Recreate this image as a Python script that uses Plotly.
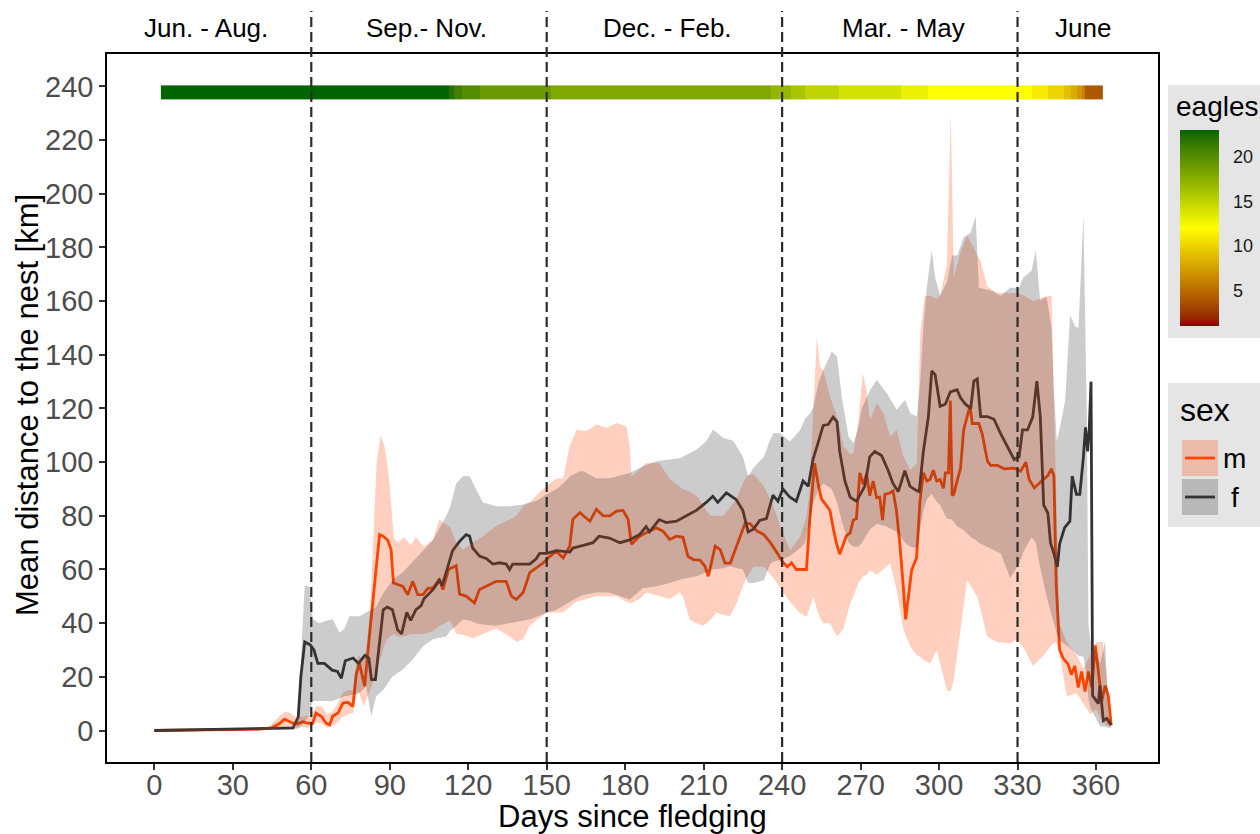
import numpy as np
import plotly.graph_objects as go

# ---------------- data ----------------
f_days = [0, 10, 20, 30, 40, 48, 53, 55, 56, 57.5, 59.5, 61, 62.5, 65, 68, 70, 71.5, 73, 76, 78, 80.5, 82, 83, 84.5,
          86, 87.5, 89, 91, 93, 94.5, 96.5, 98, 100, 102, 103, 106.5, 109, 110, 111.6, 114, 116.7, 119.2, 120.5,
          121.7, 124.3, 127, 129.4, 132, 134.5, 135.8, 137, 141, 143.5, 146, 147.3, 150, 153.7, 158.8, 160, 164,
          167.7, 170, 174, 178, 181.7, 185.5, 188, 189.3, 193, 195.7, 199.6, 203.4, 207.2, 211, 213.5, 215.4,
          218.7, 222.5, 225, 227, 229, 231.4, 234, 236.5, 238.4, 240.3, 242.9, 245.4, 248, 250, 251.8, 253.8,
          255.7, 257.6, 259.5, 261, 262, 264, 266, 268.4, 271.6, 273.5, 275.4, 278, 280.5, 282.4, 284.4, 286.9,
          288.9, 291.4, 292.4, 294, 295.9, 297.2, 298.5, 300.4, 302.4, 304.3, 306.9, 308.2, 310.1, 312.1, 313.3,
          314.6, 315.9, 318.5, 321, 323.6, 326.1, 328.7, 330.6, 331.9, 333.8, 335.8, 337.4, 338.7, 340, 341.6,
          342.6, 343.9, 345.2, 346.1, 348, 350, 350.9, 352.5, 353.8, 355.1, 356, 356.8, 357.4, 358.1, 358.7,
          360.9, 361.5, 362.8, 364.1, 365.8]
f_mean = [0, 0.2, 0.3, 0.5, 0.6, 1, 1, 5, 20, 33, 32, 30, 25, 25, 22.5, 22, 19.5, 26, 27, 25, 28, 27, 19, 19,
          33, 45, 46, 45, 37.5, 36, 44, 41, 45, 46.5, 49, 52.5, 56, 54, 59, 67, 70.5, 73, 72.5,
          68, 65, 64, 62, 62.5, 62, 60, 62, 62, 62, 64, 66, 66, 67, 66.5, 68, 69,
          70, 72.4, 71.7, 70, 71, 73, 76, 74, 78.6, 77.5, 78, 80, 82, 85, 87.3, 85,
          88.6, 86, 82, 74, 75, 78.3, 79, 87.7, 85.4, 90, 87, 85.4, 93, 91, 101, 107.4,
          113.7, 114, 116.8, 115, 104, 93, 87, 85.4, 91, 102, 104, 102.5, 97, 92, 89, 96.8,
          91, 89.4, 89, 104, 116.8, 134, 132.6, 120.8, 121.6, 126.2, 127, 124, 121.6, 120, 130.2,
          131, 117, 117, 116, 110.5, 105.7, 101, 102, 112, 112, 116.8, 130.2, 117, 84, 81,
          70, 66, 61, 69.6, 75.6, 78, 94.8, 88, 88, 101, 113, 104, 112, 130, 13,
          10, 16.8, 3.7, 4.5, 2]

m_days = [0, 10, 20, 30, 40, 45, 48, 49.7, 51.6, 53, 54.8, 56.7, 58.7, 60.5, 61.8, 63.8, 65.7, 67, 68.2, 70.2,
          72.1, 74, 75.9, 77.2, 78.4, 80.4, 82.2, 84.2, 86.1, 87.4, 89.2, 90.5, 91.4, 93, 95, 96.9, 98.8, 100.7,
          102.7, 104.6, 106.5, 109, 110.3, 112.5, 115.4, 116.7, 119.2, 122.4, 124.3, 126.9, 130.7, 134.5, 136.5,
          138.4, 141, 143.5, 146, 148.6, 151.2, 153.7, 156.3, 158.8, 160, 162.7, 164, 166.5, 169, 171.6, 174.1,
          176.7, 179.2, 181.1, 182.4, 185.5, 188, 191.9, 194.5, 197, 199.6, 202.1, 204, 206, 208.6, 210.5, 211.8,
          213.1, 214.4, 216.3, 218.2, 220.2, 222.1, 224, 225.9, 227.8, 230.4, 233, 235.5, 238.1, 240, 242, 243.6,
          245.4, 249.3, 250.5, 252.4, 253.8, 255, 257, 258.3, 259.5, 260.8, 262, 263.4, 264.6, 266, 267.2, 268.4,
          269.7, 271, 272.3, 273.5, 274.8, 276.1, 277.3, 278.4, 279.3, 281.2, 282.4, 283.7, 285, 286.3, 287.2,
          288.2, 289.5, 291.4, 292.7, 294, 295.3, 296.5, 297.8, 299.1, 300.4, 301.7, 302.4, 303.6, 304.3, 305,
          305.6, 306.9, 308.2, 309.4, 310.7, 311.8, 312.7, 315.2, 316.5, 318.5, 319.7, 322.3, 324.8, 328.7, 331.2,
          333.2, 334.4, 336.4, 339, 341.6, 342.9, 343.9, 344.8, 346.1, 347.4, 349.3, 350.6, 351.9, 353.2, 354.5,
          355.8, 357.1, 358.4, 359.7, 360.9, 362.2, 363.5, 364.7, 365.8]
m_mean = [0, 0, 0.2, 0.3, 0.5, 1, 2.7, 4.2, 3.3, 2.7, 2.5, 3.3, 2.7, 2.7, 6.5, 5.3, 2.7, 2.1, 5.3, 6.5,
          10.2, 10.5, 9, 21, 25, 16.5, 35, 53.7, 73, 72.4, 71, 67.4, 55, 54.4, 53.7, 50.6, 55.6, 50.6,
          50.6, 53, 53, 56.5, 52.5, 60, 61.4, 50.8, 50.1, 47.5, 52.5, 53.8, 55.6, 55.6, 50.1,
          48.8, 51.4, 58.8, 60.6, 62.4, 64.9, 66.8, 64.3, 68.7, 78.7, 81.2, 80, 78, 82.4, 80, 80,
          81.8, 82, 78.7, 69.4, 72.4, 73.7, 75.5, 74.3, 71.2, 72.4, 72, 64.9, 63.7, 63.5, 61.2, 57.5,
          63, 68.7, 67.4, 62.4, 62.4, 67.4, 72.4, 77.4, 77, 74.3, 73, 70, 66.2, 63, 61, 62.5,
          60, 60, 77.5, 99.6, 91.7, 86.3, 83.8, 82, 75.6, 69.6, 65.7, 69.6, 72.6, 73.6, 78.4, 79,
          96, 91.7, 95.6, 87.5, 93, 86.8, 87, 78.4, 88, 88.5, 89.3, 82, 69.6, 54, 41.4,
          49.2, 59.7, 64.4, 85.4, 96, 93, 93.5, 97, 93, 93.5, 90.2, 96, 96, 123, 87.6,
          88, 93, 97.6, 112, 116.8, 121, 114.4, 114.4, 110.5, 100.4, 98.8, 98.8, 97.5, 97.8, 96.6,
          100, 93.6, 90.4, 92.8, 95, 97.5, 95, 54, 30, 27, 24.7, 20.8, 24, 16, 22,
          14.5, 22, 16, 31.7, 22, 11, 16.7, 13, 2]

m_rib_days = [0, 10, 20, 30, 40, 44, 46, 48, 50, 52, 54, 56, 58, 60, 62, 64, 66, 68, 70, 72, 74, 76, 77, 78, 80,
              81, 82.5, 84, 85, 86.5, 88, 89, 90, 91.5, 93, 95.5, 98, 100, 103, 106.5, 109, 111, 113, 115.5,
              118, 121.7, 125.6, 130.7, 135.8, 138.5, 141, 143.5, 146, 150, 153.7, 156.3, 158.8, 161.4, 165.2,
              169, 173, 176.7, 180.5, 181.7, 182.4, 185.5, 188, 193, 197, 200.9, 202, 204.7, 207.3, 209.8, 212.4,
              214.9, 217.5, 220, 222.5, 225, 226.5, 229, 233, 236.5, 239.4, 243, 246.9, 249.4, 250.5, 252, 253.3,
              254.5, 255.8, 258.3, 261, 263.5, 266, 267.3, 269.2, 270.8, 272.3, 273.6, 276.2, 278.7, 281.3, 283.8,
              286.4, 289, 291.5, 292.8, 294.5, 296.6, 299.1, 300.4, 303, 304.5, 305.6, 308.2, 310.7, 313.3, 314.6,
              315.9, 318.4, 322.2, 327.3, 330, 332.6, 336, 339.9, 343, 344.5, 346, 348.8, 352.6, 355.2, 357.8, 360,
              362.5, 364, 365.8]
m_lo = [0, 0, 0, 0, 0.1, 0.3, 0.5, 1, 1.5, 1, 1, 1.5, 1, 1.5, 3, 2.5, 1, 1.5, 3, 5, 6, 6.5, 12, 15, 9,
        11.5, 15, 19, 22, 27, 32, 34, 35, 36, 35, 35, 36, 36, 36, 37, 39, 40, 41, 36,
        35.7, 34.4, 36, 38, 35, 33, 34, 39, 41, 43.9, 44, 44, 46, 48, 49,
        50, 50, 50, 48, 47.5, 47.5, 49, 51.4, 50, 49, 51.4, 50, 41.4, 40, 39, 41,
        43.9, 43, 42.6, 47, 53.8, 57, 61, 61, 57, 53, 48, 43.6, 42.4, 45, 49.8, 45,
        42, 39.9, 40, 35, 38, 47.4, 50, 55, 57.3, 58, 59.8, 58, 60, 62.3, 52.4,
        37.5, 31.2, 28, 27.5, 26, 25, 30, 25, 15, 14.6, 18.7, 37.5, 56, 52, 49.8,
        45, 35, 33, 32.4, 34, 30.3, 24, 27.9, 32, 33, 29.3, 12.7, 14, 10, 6, 8,
        3, 2, 1.5]
m_hi = [0.3, 0.3, 0.4, 0.5, 0.8, 1.5, 3.5, 5.5, 7, 6.5, 5, 5, 5.5, 6, 9, 9, 6, 7, 10, 14, 15, 15, 24, 28, 26,
        30, 45, 80, 100, 110, 106, 100, 91, 72, 70, 72, 69, 72, 68.5, 71, 78.7, 77, 76, 70,
        67.4, 70, 72.4, 76.2, 78.7, 80, 83.7, 85, 87.5, 91.3, 93.8, 94, 106, 112, 111.6,
        114, 112.8, 114.6, 113.4, 106, 94.7, 97.2, 99.7, 99.7, 93.8, 91, 90, 89, 87.5, 84, 80,
        80, 80, 83, 86.2, 92, 95, 95.6, 91, 84, 76, 67.2, 72.2, 80, 90, 120.7, 146.8,
        135.6, 134, 124.4, 117, 105.8, 103, 103.3, 115.7, 133, 126.9, 115.7, 122, 118.2, 109.5, 112,
        102, 97.1, 99.6, 148, 162, 162, 160.8, 162, 173.5, 230, 168.7, 178.2, 184.5, 179.8, 177,
        175, 165.5, 163, 163, 163, 162, 160, 161.5, 162, 100, 40, 33, 28, 23, 28, 33,
        33, 20, 3]

f_rib_days = [0, 20, 40, 50, 54, 55.5, 56.5, 57.5, 59.3, 60.5, 63, 66, 68.2, 70.8, 72.7, 74.6, 78.4, 81, 82.9,
              84.8, 87.4, 91, 95, 98.8, 102.7, 106.5, 111.6, 113, 115.4, 118, 120.5, 123.1, 125.6, 130.7, 135.8,
              141, 143.5, 146, 150, 153.8, 156.3, 158.9, 162.7, 164, 169, 174, 181.7, 186.8, 191.9, 197, 200.9,
              202, 207.3, 211, 213.6, 217.5, 220, 221.3, 225, 227, 229, 233, 235.4, 236.8, 239.2, 243, 246.9,
              248.8, 250.6, 252, 254, 255.8, 259, 261, 262.8, 265.4, 267.3, 269.2, 270.5, 273.6, 276.2, 280,
              283.8, 287, 289, 291.5, 292.8, 294, 295.3, 297.2, 298.5, 300.4, 303, 305, 307, 309.4, 312, 314,
              315.2, 319.7, 323.6, 327.2, 330.6, 332.2, 335.4, 337, 338.6, 341.1, 343, 343.7, 345, 346.3, 348.2,
              350.1, 352, 353.3, 355.2, 356.5, 357.1, 357.8, 360.3, 361.6, 363.5, 364.8, 365.8]
f_lo = [0, 0, 0.1, 0.3, 0.5, 1, 2, 3, 6, 11, 11, 11, 11, 12, 12.8, 13, 14, 16.5, 5.3,
        12.8, 15, 20, 22.7, 26.5, 31.4, 34, 35, 37, 39, 41.4, 41, 40, 39.5, 39, 40,
        41, 41.4, 42.5, 43.9, 45, 46.3, 48, 50, 50.5, 51.4, 51.4, 48.8, 53, 53.8, 55, 56.3,
        56.5, 57.5, 59, 60, 60.5, 61.2, 61, 60, 55, 55, 56, 62, 63, 63.5, 65, 68,
        70, 78, 85, 90, 92, 90, 85, 78, 70, 68.5, 68.5, 70, 75, 77, 76,
        74, 70, 68.5, 68, 75, 82, 86, 88.3, 86, 84, 79, 78.5, 76, 74.7, 72.2, 71,
        70, 68, 66, 56.8, 62, 66.5, 72, 70, 61, 50, 43, 40.4, 36, 33.4, 32,
        30.7, 29, 27.9, 27.5, 20, 12, 8.6, 4, 1.5, 1.5, 1, 1]
f_hi = [0.3, 0.4, 0.6, 1, 1.5, 10, 36, 54, 53.7, 41.5, 40, 41, 41.5, 36.4, 38, 42.6, 42.6, 44, 45,
        46, 51, 56, 59, 63, 67, 71, 80, 83, 92, 94.7, 94.7, 89.6, 85, 83.6, 83.6,
        84.2, 85, 85.5, 88, 90, 92, 94.7, 96.6, 96.6, 94, 94, 96, 98.5, 100.3, 101, 101.5,
        102, 104.7, 107.8, 112.2, 109, 108.5, 108, 102, 94.7, 97.8, 102, 108.3, 110.9, 110.8, 107.7, 112,
        116.3, 118, 120.7, 130, 134.4, 141.2, 139.3, 124.4, 109.5, 107, 113.2, 120, 126.9, 130.6, 125.7,
        119.5, 123.2, 118.2, 117, 130, 150, 165, 179, 168.7, 162, 167, 177, 177, 183.8, 185.4, 191.7,
        165, 164, 162, 165, 165, 168.7, 171.3, 178.9, 160.2, 161.5, 150, 130, 107.9, 113.3, 123,
        154.7, 150.6, 150, 192, 116, 40, 33.4, 29.3, 25, 33.4, 6, 3]

# eagles-count colour bar segments (first day, last day, number of eagles)
bar_start = [3, 113, 115, 118, 125, 152, 185, 236, 244, 249, 262, 286, 292, 296, 336, 342, 348, 351, 353, 355, 356]
bar_end = [112, 114, 117, 124, 151, 184, 235, 243, 248, 261, 285, 291, 295, 335, 341, 347, 350, 352, 354, 355, 362]
bar_eagles = [23, 22, 21, 20, 19, 18, 18, 17, 16, 15, 14, 13, 13, 12, 11, 10, 9, 8, 7, 6, 4]

season_days = [0, 60, 150, 240, 330]          # dashed separators at 60..330
season_labels = ["Jun. - Aug.", "Sep.- Nov.", "Dec. - Feb.", "Mar. - May", "June"]
season_label_x = [19.7, 104, 196.2, 286.3, 355.2]

x_ticks = list(range(0, 361, 30))
y_ticks = list(range(0, 241, 20))
cbar_ticks = [5, 10, 15, 20]
Z_MIN, Z_MAX = 1, 23

# ---------------- colour scale (Lab interpolation like ggplot) ----------------
def _hex(h):
    h = h.lstrip('#')
    return np.array([int(h[i:i + 2], 16) for i in (0, 2, 4)], float) / 255


def _to_lab(rgb):
    c = np.where(rgb <= 0.04045, rgb / 12.92, ((rgb + 0.055) / 1.055) ** 2.4)
    M = np.array([[0.4124, 0.3576, 0.1805], [0.2126, 0.7152, 0.0722], [0.0193, 0.1192, 0.9505]])
    xyz = M @ c / np.array([0.95047, 1.0, 1.08883])
    f = np.where(xyz > 0.008856, np.cbrt(xyz), 7.787 * xyz + 16 / 116)
    return np.array([116 * f[1] - 16, 500 * (f[0] - f[1]), 200 * (f[1] - f[2])])


def _from_lab(lab):
    fy = (lab[0] + 16) / 116
    fx = fy + lab[1] / 500
    fz = fy - lab[2] / 200
    f = np.array([fx, fy, fz])
    xyz = np.where(f ** 3 > 0.008856, f ** 3, (f - 16 / 116) / 7.787) * np.array([0.95047, 1.0, 1.08883])
    Mi = np.array([[3.2406, -1.5372, -0.4986], [-0.9689, 1.8758, 0.0415], [0.0557, -0.2040, 1.0570]])
    c = np.clip(Mi @ xyz, 0, 1)
    s = np.where(c <= 0.0031308, 12.92 * c, 1.055 * c ** (1 / 2.4) - 0.055)
    s = np.clip(s, 0, 1)
    return 'rgb(%d,%d,%d)' % tuple(np.round(s * 255))


anchors = [_to_lab(_hex(h)) for h in ('#8B0000', '#FFFF00', '#006400')]
colorscale = []
for t in np.linspace(0, 1, 45):
    if t <= 0.5:
        lab = anchors[0] + (anchors[1] - anchors[0]) * (t / 0.5)
    else:
        lab = anchors[1] + (anchors[2] - anchors[1]) * ((t - 0.5) / 0.5)
    colorscale.append([float(t), _from_lab(lab)])

# expand segments into daily tiles
tile_days, tile_z = [], []
for s, e, v in zip(bar_start, bar_end, bar_eagles):
    for d in range(s, e + 1):
        tile_days.append(d)
        tile_z.append(v)
x_edges = [d - 0.5 for d in tile_days] + [tile_days[-1] + 0.5]

# ---------------- geometry helpers ----------------
W, H = 1260, 834
L, R, T, B = 107, 102, 54, 72
PW, PH = W - L - R, H - T - B


def px(xp):
    return (xp - L) / PW


def py(yp):
    return (H - B - yp) / PH


FONT = "Liberation Sans, Arial, Helvetica, sans-serif"
M_COL = "#FF4500"
F_COL = "#333333"
M_FILL = "rgba(255,69,0,0.25)"
F_FILL = "rgba(51,51,51,0.25)"

CB_LEFT, CB_TOP, CB_LEN, CB_W = 1180, 130, 196, 39

fig = go.Figure()

fig.add_trace(go.Heatmap(
    x=x_edges, y=[235.2, 240.4], z=[tile_z], zmin=Z_MIN, zmax=Z_MAX, colorscale=colorscale,
    hoverinfo='skip',
    colorbar=dict(
        thickness=CB_W, thicknessmode='pixels', len=CB_LEN, lenmode='pixels',
        x=px(CB_LEFT), xanchor='left', y=py(CB_TOP), yanchor='top', xpad=0, ypad=0,
        outlinewidth=0, tickvals=cbar_ticks, ticks='outside', ticklen=11, tickwidth=1,
        tickcolor='rgba(0,0,0,0)', tickfont=dict(family=FONT, size=18, color='#1A1A1A'),
        bgcolor='rgba(0,0,0,0)', title=dict(text='')),
))

# lines first, ribbons drawn over them (as in the reference)
fig.add_trace(go.Scatter(x=m_days, y=m_mean, mode='lines', line=dict(color=M_COL, width=2.8),
                         showlegend=False, hoverinfo='skip'))
fig.add_trace(go.Scatter(x=f_days, y=f_mean, mode='lines', line=dict(color=F_COL, width=2.8),
                         showlegend=False, hoverinfo='skip'))
fig.add_trace(go.Scatter(x=m_rib_days + m_rib_days[::-1], y=m_hi + m_lo[::-1], mode='lines',
                         line=dict(width=0), fill='toself', fillcolor=M_FILL,
                         showlegend=False, hoverinfo='skip'))
fig.add_trace(go.Scatter(x=f_rib_days + f_rib_days[::-1], y=f_hi + f_lo[::-1], mode='lines',
                         line=dict(width=0), fill='toself', fillcolor=F_FILL,
                         showlegend=False, hoverinfo='skip'))

shapes = []
for d in season_days[1:]:
    shapes.append(dict(type='line', xref='x', yref='paper', x0=d, x1=d, y0=0, y1=py(11),
                       line=dict(color='#2B2B2B', width=2.2, dash='10px,5px'), layer='above'))
# legend backgrounds
shapes.append(dict(type='rect', xref='paper', yref='paper', x0=px(1168), x1=px(1262), y0=py(338), y1=py(85),
                   fillcolor='#E5E5E5', line=dict(width=0), layer='below'))
shapes.append(dict(type='rect', xref='paper', yref='paper', x0=px(1168), x1=px(1262), y0=py(527), y1=py(383),
                   fillcolor='#E5E5E5', line=dict(width=0), layer='below'))
# white tick marks inside the colour bar (ggplot style)
for v in cbar_ticks:
    yv = CB_TOP + CB_LEN * (Z_MAX - v) / (Z_MAX - Z_MIN)
    for xa, xb in [(CB_LEFT, CB_LEFT + 7), (CB_LEFT + CB_W - 7, CB_LEFT + CB_W)]:
        shapes.append(dict(type='line', xref='paper', yref='paper', x0=px(xa), x1=px(xb), y0=py(yv), y1=py(yv),
                           line=dict(color='white', width=1.2), layer='above'))
# legend keys
for (y0, y1, fill, col) in [(440, 476, M_FILL, M_COL), (479, 515, F_FILL, F_COL)]:
    shapes.append(dict(type='rect', xref='paper', yref='paper', x0=px(1182), x1=px(1218), y0=py(y1), y1=py(y0),
                       fillcolor=fill, line=dict(width=0)))
    ym = (y0 + y1) / 2
    shapes.append(dict(type='line', xref='paper', yref='paper', x0=px(1185), x1=px(1215), y0=py(ym), y1=py(ym),
                       line=dict(color=col, width=2.8)))

annotations = []
for lab, xd in zip(season_labels, season_label_x):
    annotations.append(dict(text=lab, x=xd, xref='x', y=py(28), yref='paper', showarrow=False,
                            xanchor='center', yanchor='middle', font=dict(family=FONT, size=26, color='black')))
annotations.append(dict(text='eagles', x=px(1174), y=py(107), xref='paper', yref='paper', showarrow=False,
                        xanchor='left', yanchor='middle', font=dict(family=FONT, size=28, color='black')))
annotations.append(dict(text='sex', x=px(1178), y=py(410), xref='paper', yref='paper', showarrow=False,
                        xanchor='left', yanchor='middle', font=dict(family=FONT, size=32, color='black')))
annotations.append(dict(text='m', x=px(1221), y=py(458), xref='paper', yref='paper', showarrow=False,
                        xanchor='left', yanchor='middle', font=dict(family=FONT, size=28, color='black')))
annotations.append(dict(text='f', x=px(1229), y=py(497), xref='paper', yref='paper', showarrow=False,
                        xanchor='left', yanchor='middle', font=dict(family=FONT, size=28, color='black')))
# axis titles
annotations.append(dict(text='Days since fledging', x=px(632), y=py(816), xref='paper', yref='paper',
                        showarrow=False, xanchor='center', yanchor='middle',
                        font=dict(family=FONT, size=31, color='black')))
annotations.append(dict(text='Mean distance to the nest [km]', x=px(27), y=py(405), xref='paper', yref='paper',
                        showarrow=False, xanchor='center', yanchor='middle', textangle=-90,
                        font=dict(family=FONT, size=31, color='black')))

fig.update_layout(
    width=W, height=H, autosize=False,
    margin=dict(l=L, r=R, t=T, b=B, pad=0, autoexpand=False),
    paper_bgcolor='white', plot_bgcolor='white',
    font=dict(family=FONT),
    shapes=shapes, annotations=annotations, showlegend=False,
    xaxis=dict(range=[-18.1, 383.7], tickvals=x_ticks, ticks='outside', ticklen=6, tickwidth=1.5,
               tickcolor='#333333', showline=True, linecolor='black', linewidth=1.6, mirror=True,
               showgrid=False, zeroline=False, tickfont=dict(family=FONT, size=29, color='#4D4D4D'),
               ticklabelstandoff=-10, automargin=False),
    yaxis=dict(range=[-11.74, 252.1], tickvals=y_ticks, ticks='outside', ticklen=6, tickwidth=1.5,
               tickcolor='#333333', showline=True, linecolor='black', linewidth=1.6, mirror=True,
               showgrid=False, zeroline=False, tickfont=dict(family=FONT, size=29, color='#4D4D4D'),
               automargin=False),
)

fig.write_html("out.html", post_script="document.body.style.margin='0px';",
               config={'displayModeBar': False})
